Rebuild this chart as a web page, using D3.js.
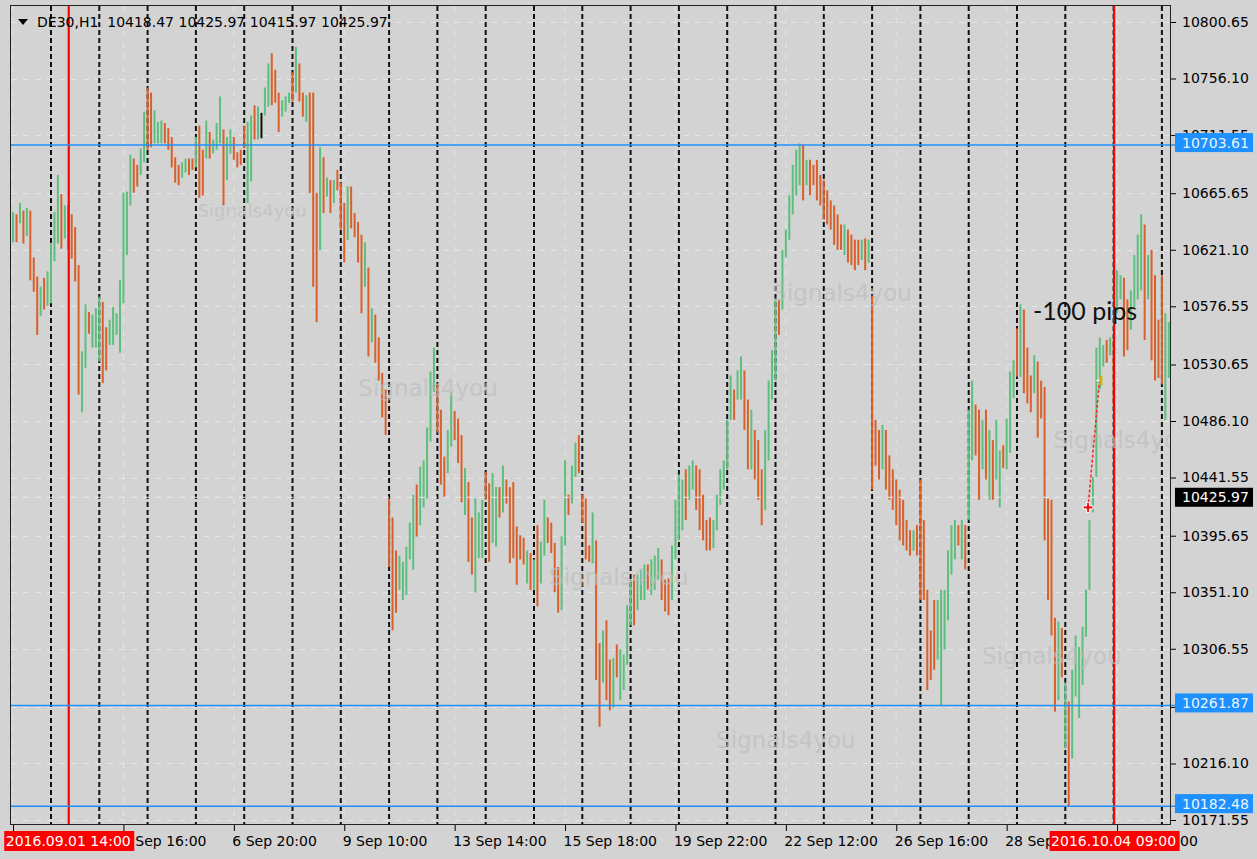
<!doctype html>
<html lang="en">
<head>
    <meta charset="utf-8">
    <title>DE30,H1</title>
    <script src="https://cdn.jsdelivr.net/npm/d3@7"></script>
    <style>
        body { margin: 0; background: #d3d3d3; }
        svg { display: block; }
    </style>
</head>
<body>
<script>
    // ---- data ----
    var symbol = "DE30,H1";
    var lastOHLC = [10418.47, 10425.97, 10415.97, 10425.97];
    var sessionDays = ["2016.08.31", "2016.09.01", "2016.09.02", "2016.09.05", "2016.09.06", "2016.09.07", "2016.09.08",
        "2016.09.09", "2016.09.12", "2016.09.13", "2016.09.14", "2016.09.15", "2016.09.16", "2016.09.19", "2016.09.20",
        "2016.09.21", "2016.09.22", "2016.09.23", "2016.09.26", "2016.09.27", "2016.09.28", "2016.09.29", "2016.09.30",
        "2016.10.04", "2016.10.05"];
    var firstHour = 9, lastHour = 22, firstDayHour = 12;

    var barHigh = [
        10651,10649,10658,10652,10654,10652,10615,10600,10592,10599,
        10604,10626,10651,10680,10665,10656,10656,10649,10639,10609,
        10541,10578,10572,10570,10575,10584,10580,10560,10566,10576,
        10571,10597,10666,10667,10696,10693,10688,10701,10730,10749,
        10745,10731,10722,10723,10721,10717,10710,10694,10688,10690,
        10693,10693,10693,10710,10719,10700,10723,10714,10708,10721,
        10742,10716,10710,10716,10710,10698,10700,10719,10722,10727,
        10735,10734,10729,10749,10768,10776,10763,10745,10739,10742,
        10745,10761,10781,10768,10745,10743,10745,10745,10666,10702,
        10694,10678,10676,10676,10684,10674,10658,10671,10671,10650,
        10643,10633,10627,10607,10575,10570,10552,10524,10511,10425,
        10410,10384,10380,10375,10387,10406,10428,10436,10450,10455,
        10481,10525,10544,10515,10495,10458,10479,10509,10494,10488,
        10475,10449,10438,10410,10425,10414,10424,10446,10437,10445,
        10434,10434,10451,10440,10434,10438,10403,10396,10394,10384,
        10382,10377,10404,10391,10424,10410,10406,10390,10371,10395,
        10455,10428,10451,10469,10475,10428,10425,10388,10414,10392,
        10311,10321,10329,10298,10299,10310,10306,10302,10341,10361,
        10365,10365,10369,10373,10373,10377,10380,10386,10377,10361,
        10362,10388,10424,10444,10440,10448,10451,10455,10451,10448,
        10428,10408,10410,10408,10428,10448,10455,10487,10522,10511,
        10526,10537,10526,10503,10495,10479,10471,10448,10479,10518,
        10542,10582,10582,10621,10637,10664,10688,10700,10705,10704,
        10692,10692,10688,10692,10680,10676,10668,10660,10656,10649,
        10641,10641,10637,10633,10629,10629,10629,10630,10629,10585,
        10487,10479,10483,10479,10459,10448,10440,10432,10424,10408,
        10400,10400,10404,10440,10408,10353,10321,10345,10345,10353,
        10353,10384,10404,10408,10404,10408,10404,10495,10518,10499,
        10495,10487,10495,10479,10471,10487,10463,10467,10488,10525,
        10534,10559,10578,10574,10544,10522,10538,10533,10518,10513,
        10425,10424,10331,10328,10323,10280,10265,10290,10317,10308,
        10324,10353,10408,10442,10544,10552,10546,10550,10552,10550,
        10605,10601,10599,10582,10589,10617,10633,10649,10641,10617,
        10621,10601,10566,10601,10571,10564];
    var barLow = [
        10627,10627,10642,10626,10632,10597,10588,10554,10569,10574,
        10577,10579,10612,10626,10622,10630,10621,10614,10596,10507,
        10493,10528,10555,10544,10544,10533,10516,10526,10546,10546,
        10554,10540,10579,10617,10656,10666,10671,10680,10690,10700,
        10702,10705,10705,10705,10705,10700,10686,10674,10672,10678,
        10682,10680,10684,10686,10662,10664,10693,10693,10697,10700,
        10705,10656,10676,10697,10692,10686,10688,10701,10658,10675,
        10708,10708,10709,10727,10734,10735,10737,10714,10726,10730,
        10737,10738,10745,10738,10726,10722,10666,10592,10564,10621,
        10650,10663,10650,10658,10668,10637,10611,10629,10638,10631,
        10611,10571,10592,10537,10548,10532,10518,10489,10475,10371,
        10321,10335,10353,10345,10349,10377,10369,10395,10404,10418,
        10425,10470,10509,10477,10436,10426,10445,10466,10471,10453,
        10422,10412,10375,10365,10351,10378,10378,10424,10375,10390,
        10387,10410,10414,10421,10374,10378,10357,10377,10373,10358,
        10353,10353,10340,10358,10380,10390,10382,10351,10335,10337,
        10388,10412,10421,10442,10445,10406,10377,10375,10374,10282,
        10245,10280,10266,10258,10260,10284,10266,10274,10294,10325,
        10325,10337,10345,10345,10353,10349,10353,10361,10345,10336,
        10333,10345,10377,10392,10400,10408,10424,10432,10416,10400,
        10392,10384,10384,10386,10400,10420,10432,10448,10487,10487,
        10503,10503,10479,10448,10448,10440,10424,10404,10416,10455,
        10503,10518,10554,10574,10615,10629,10649,10664,10672,10660,
        10672,10664,10672,10660,10656,10645,10641,10637,10625,10621,
        10621,10617,10611,10609,10605,10609,10613,10605,10611,10432,
        10451,10440,10448,10432,10424,10416,10404,10392,10388,10384,
        10380,10384,10380,10345,10345,10274,10282,10290,10298,10262,
        10306,10329,10365,10377,10388,10377,10369,10408,10455,10459,
        10424,10448,10440,10424,10424,10440,10418,10449,10448,10461,
        10504,10521,10521,10508,10500,10493,10508,10473,10488,10392,
        10345,10317,10257,10266,10284,10228,10182,10220,10269,10252,
        10278,10316,10353,10414,10442,10511,10529,10532,10538,10499,
        10571,10582,10537,10542,10558,10576,10582,10589,10550,10582,
        10534,10518,10520,10515,10487,10520];
    // u = bull bar, d = bear bar, k = doji
    var barDir = ("ududu dddud uuuud udddd uuduu udduu uuuuu dduud duuud ddddu " +
        "uddud duduu uduud ddduu dukuu ddduu ududd udddu dudud ddudd " +
        "ddudu ddddd dduuu uuduu uuudd duudd duddu uuddu ududd ddddu " +
        "duduu ddddu uduud dddud duddu duuuu duuud uuudd duuuu duudd " +
        "ddduu uuuud uuddu ddduu uuduu uuuud udddd ddddd duddd dudud " +
        "ddudd ddddd duddd ddduu uuuud uduud dudud uuduu ududd duddd " +
        "dddud uduuu uuuuu uudud uuddu uuudu ddddu u").replace(/\s/g, "");

    var priceTicks = [10800.65, 10756.10, 10711.55, 10665.65, 10621.10, 10576.55, 10530.65, 10486.10,
        10441.55, 10395.65, 10351.10, 10306.55, 10260.65, 10216.10, 10171.55];
    var levelLines = [10703.61, 10261.87, 10182.48];
    var bidPrice = 10425.97;
    var markedTimes = ["2016.09.01 14:00", "2016.10.04 09:00"];
    var labelEvery = 32;
    var tradeOpen = {bar: 311.6, price: 10418};
    var tradeClose = {bar: 314.9, price: 10518};
    var tradeResult = "-100 pips";
    var watermarkAt = [[69.3, 10652], [240.3, 10587], [120.3, 10512], [321.7, 10471], [175.6, 10363], [301.1, 10301], [224.0, 10235]];

    // ---- layout ----
    var W = 1257, H = 859;
    var plotL = 11, plotR = 1171, plotT = 6, plotB = 825;
    var upColor = "#5cbf7c", downColor = "#d9602b";
    var axisFont = "'DejaVu Sans', sans-serif";

    var barTimes = [];
    sessionDays.forEach(function(day, k) {
        for (var h = (k == 0 ? firstDayHour : firstHour); h <= lastHour; h++) barTimes.push({day: day, hour: h});
    });
    var n = Math.min(barHigh.length, barLow.length, barDir.length);
    barTimes = barTimes.slice(0, n);
    var bars = barTimes.map(function(t, i) {
        return {i: i, t: t, high: barHigh[i], low: barLow[i], dir: barDir[i]};
    });

    var months = {"08": "Aug", "09": "Sep", "10": "Oct"};
    function pad(h) { return (h < 10 ? "0" : "") + h; }
    function fullTime(t) { return t.day + " " + pad(t.hour) + ":00"; }
    function shortTime(t) {
        var p = t.day.split(".");
        return (+p[2]) + " " + months[p[1]] + " " + pad(t.hour) + ":00";
    }

    var x = d3.scaleLinear().domain([0, 335]).range([13.05, 1168.8]);
    var y = d3.scaleLinear().domain([10171.55, 10800.65]).range([820, 22]);

    var svg = d3.select("body").append("svg").attr("width", W).attr("height", H);
    svg.append("rect").attr("width", W).attr("height", H).attr("fill", "#d3d3d3");

    svg.append("defs").append("clipPath").attr("id", "plotClip").append("rect")
        .attr("x", plotL).attr("y", plotT).attr("width", plotR - plotL).attr("height", plotB - plotT);
    var chart = svg.append("g").attr("clip-path", "url(#plotClip)");

    var marked = markedTimes.map(function(s) {
        return {label: s, i: barTimes.findIndex(function(t) { return fullTime(t) == s; })};
    });
    var boxHalf = 65;

    // time labels, minus the one that sits wholly under a marked-time box
    var labelIdx = d3.range(0, n, labelEvery).filter(function(i) {
        return !marked.some(function(m) { return x(i) - 2 >= x(m.i) - boxHalf && x(i) + 90 <= x(m.i) + boxHalf; });
    });

    // faint grid
    chart.append("g").selectAll("line").data(priceTicks).enter().append("line")
        .attr("x1", plotL).attr("x2", plotR)
        .attr("y1", function(d) { return Math.round(y(d)) + 0.5; })
        .attr("y2", function(d) { return Math.round(y(d)) + 0.5; })
        .attr("stroke", "#e4e4e4").attr("stroke-dasharray", "6,6");
    chart.append("g").selectAll("line").data(d3.range(0, n, labelEvery)).enter().append("line")
        .attr("x1", function(d) { return x(d); }).attr("x2", function(d) { return x(d); })
        .attr("y1", plotT).attr("y2", plotB)
        .attr("stroke", "#e4e4e4").attr("stroke-dasharray", "6,6");

    // day separators
    chart.append("g").selectAll("line").data(bars.filter(function(b) { return b.t.hour == firstHour; })).enter().append("line")
        .attr("x1", function(d) { return x(d.i); }).attr("x2", function(d) { return x(d.i); })
        .attr("y1", plotT).attr("y2", plotB)
        .attr("stroke", "#111").attr("stroke-width", 2).attr("stroke-dasharray", "5,3");

    // bars
    chart.append("g").selectAll("line").data(bars).enter().append("line")
        .attr("x1", function(d) { return x(d.i); }).attr("x2", function(d) { return x(d.i); })
        .attr("y1", function(d) { return y(d.high); })
        .attr("y2", function(d) { return Math.max(y(d.low), y(d.high) + 1); })
        .attr("stroke", function(d) { return d.dir == "u" ? upColor : d.dir == "d" ? downColor : "#111"; })
        .attr("stroke-width", 2);

    // bid line and horizontal levels
    chart.append("line").attr("x1", plotL).attr("x2", plotR)
        .attr("y1", y(bidPrice)).attr("y2", y(bidPrice))
        .attr("stroke", "#ececec").attr("stroke-dasharray", "6,6");
    svg.append("g").selectAll("line").data(levelLines).enter().append("line")
        .attr("x1", plotL).attr("x2", 1176)
        .attr("y1", function(d) { return y(d); }).attr("y2", function(d) { return y(d); })
        .attr("stroke", "#1e90ff").attr("stroke-width", 1.5);

    // marked times
    chart.append("g").selectAll("line").data(marked).enter().append("line")
        .attr("x1", function(d) { return x(d.i) + 0.5; }).attr("x2", function(d) { return x(d.i) + 0.5; })
        .attr("y1", plotT).attr("y2", plotB)
        .attr("stroke", "#ff0000").attr("stroke-width", 2.2);

    // watermarks
    chart.append("g").selectAll("text").data(watermarkAt).enter().append("text")
        .attr("x", function(d) { return x(d[0]); }).attr("y", function(d) { return y(d[1]); })
        .attr("text-anchor", "middle").attr("dominant-baseline", "central")
        .attr("font-family", axisFont).attr("font-size", function(d, i) { return i == 0 ? 18 : 23; })
        .attr("fill", "#bdbdbd").attr("opacity", 0.65)
        .text("Signals4you");

    // trade
    chart.append("line")
        .attr("x1", x(tradeOpen.bar)).attr("y1", y(tradeOpen.price))
        .attr("x2", x(tradeClose.bar)).attr("y2", y(tradeClose.price))
        .attr("stroke", "#ff2020").attr("stroke-width", 1.5).attr("stroke-dasharray", "3,2");
    chart.append("path")
        .attr("transform", "translate(" + x(tradeOpen.bar) + "," + y(tradeOpen.price) + ")")
        .attr("d", "M-5,-1.5h3.5v-3.5h3v3.5h3.5v3h-3.5v3.5h-3v-3.5h-3.5z")
        .attr("fill", "#f01010").attr("stroke", "#fff").attr("stroke-width", 1);
    chart.append("path")
        .attr("transform", "translate(" + x(tradeClose.bar) + "," + y(tradeClose.price) + ")")
        .attr("d", "M0,-5h3v10h-3z")
        .attr("fill", "#c9b21a");
    chart.append("path")
        .attr("transform", "translate(" + x(tradeClose.bar) + "," + y(tradeClose.price) + ")")
        .attr("d", "M-3,0h3")
        .attr("stroke", "#fff").attr("stroke-width", 1.5);
    chart.append("text")
        .attr("x", x(310.7)).attr("y", y(10574))
        .attr("text-anchor", "middle").attr("dominant-baseline", "central")
        .attr("font-family", "Lato, 'Open Sans', sans-serif").attr("font-size", 25)
        .attr("fill", "#111").text(tradeResult);

    // frame
    svg.append("rect").attr("x", plotL - 0.5).attr("y", plotT - 0.5)
        .attr("width", plotR - plotL).attr("height", plotB - plotT)
        .attr("fill", "none").attr("stroke", "#222").attr("stroke-width", 1);

    // header
    svg.append("path").attr("d", "M18,19h10l-5,6z").attr("fill", "#000");
    svg.append("text").attr("x", 37).attr("y", 27)
        .attr("font-family", axisFont).attr("font-size", 14).attr("fill", "#000")
        .style("white-space", "pre")
        .text(symbol + "  " + lastOHLC.map(function(v) { return v.toFixed(2); }).join(" "));

    // price axis; a tick label wholly under a level box is left blank
    var priceBoxes = levelLines.map(function(v) { return {v: v, bg: "#1e90ff", fg: "#eaf4ff", up: 2.5}; });
    priceBoxes.push({v: bidPrice, bg: "#000", fg: "#fff", up: 0});
    function covered(t) {
        return priceBoxes.some(function(b) { return Math.abs(y(t) - (y(b.v) - b.up)) < 3; });
    }
    var yAxis = d3.axisRight(y).tickValues(priceTicks).tickSize(5).tickPadding(6)
        .tickFormat(function(t) { return covered(t) ? "" : d3.format(".2f")(t); });
    var ya = svg.append("g").attr("transform", "translate(" + plotR + ",0)").call(yAxis)
        .attr("font-family", axisFont).attr("font-size", 14).attr("color", "#000");
    ya.select(".domain").remove();

    var pb = svg.append("g").selectAll("g").data(priceBoxes).enter().append("g")
        .attr("transform", function(d) { return "translate(1175," + (y(d.v) - d.up) + ")"; });
    pb.append("rect").attr("x", 0).attr("y", -9.5).attr("width", 78).attr("height", 19)
        .attr("fill", function(d) { return d.bg; });
    pb.append("text").attr("x", 7).attr("y", 0).attr("dy", "0.36em")
        .attr("font-family", axisFont).attr("font-size", 14)
        .attr("fill", function(d) { return d.fg; })
        .text(function(d) { return d.v.toFixed(2); });

    // time axis
    var xAxis = d3.axisBottom(x).tickValues(d3.range(0, n, labelEvery)).tickSize(6)
        .tickFormat(function(i) { return labelIdx.indexOf(i) >= 0 ? shortTime(barTimes[i]) : ""; });
    var xa = svg.append("g").attr("transform", "translate(0," + plotB + ")").call(xAxis)
        .attr("font-family", axisFont).attr("font-size", 14).attr("color", "#000");
    xa.select(".domain").remove();
    xa.selectAll(".tick text").attr("text-anchor", "start").attr("x", -2).attr("y", 11);

    var tb = svg.append("g").selectAll("g").data(marked).enter().append("g")
        .attr("transform", function(d) { return "translate(" + x(d.i) + "," + 841 + ")"; });
    tb.append("rect").attr("x", -boxHalf + 1).attr("y", -10).attr("width", 2 * boxHalf).attr("height", 20).attr("fill", "#ff0000");
    tb.append("text").attr("text-anchor", "middle").attr("dy", "0.36em")
        .attr("font-family", axisFont).attr("font-size", 14).attr("fill", "#fff")
        .text(function(d) { return d.label; });
</script>
</body>
</html>
